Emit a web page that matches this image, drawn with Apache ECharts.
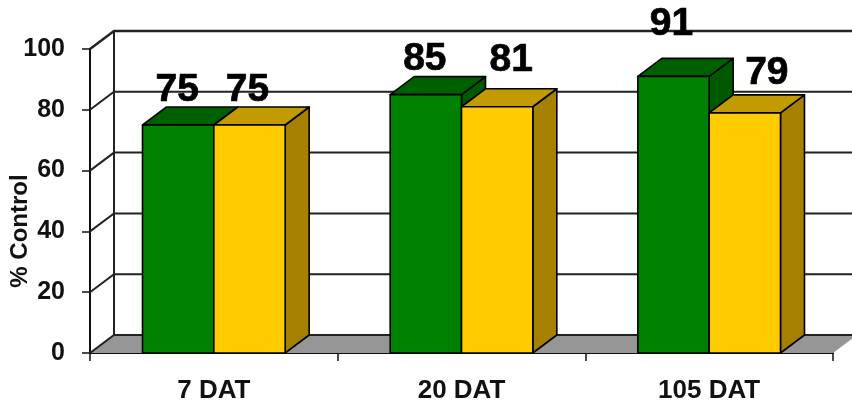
<!DOCTYPE html>
<html><head><meta charset="utf-8">
<style>html,body{margin:0;padding:0;background:#fff}#c{width:852px;height:405px}</style>
<script src="https://cdn.jsdelivr.net/npm/echarts@6/dist/echarts.min.js"></script>
</head><body><div id="c"></div>
<script>
const categories = ['7 DAT', '20 DAT', '105 DAT'];
const greenValues = [75, 85, 91];
const yellowValues = [75, 81, 79];
const yTicks = [0, 20, 40, 60, 80, 100];
const greenLabelNudge = [[-1, -35], [-1, -35], [-2, -52]];
const yellowLabelNudge = [[-2, -35], [14, -47], [22, -40]];

const DX = 24, DY = -18, BAR = 0.288;
const INK = '#000';
const FONT = '"Liberation Sans", Arial, sans-serif';

function poly(pts, fill) {
  return { type: 'polygon', shape: { points: pts },
    style: { fill, stroke: INK, lineWidth: 1.6, lineJoin: 'round' } };
}
function barItem(side, faces, nudges) {
  return function (params, api) {
    const i = api.value(0), v = api.value(1);
    const top = api.coord([i, v]), base = api.coord([i, 0]);
    const w = api.size([1, 0])[0] * BAR;
    const x0 = side < 0 ? top[0] - w : top[0], x1 = x0 + w;
    const yT = top[1], yB = base[1];
    const n = nudges[i];
    return { type: 'group', children: [
      poly([[x1, yB], [x1 + DX, yB + DY], [x1 + DX, yT + DY], [x1, yT]], faces.side),
      poly([[x0, yT], [x0 + DX, yT + DY], [x1 + DX, yT + DY], [x1, yT]], faces.top),
      poly([[x0, yT], [x1, yT], [x1, yB], [x0, yB]], faces.front),
      { type: 'text', z2: 50, style: { x: (x0 + x1) / 2 + n[0], y: yT + n[1], text: String(v),
        fill: '#000', font: 'bold 39px ' + FONT, align: 'center', verticalAlign: 'middle',
        stroke: '#000', lineWidth: 0.7 } }
    ] };
  };
}

const chart = echarts.init(document.getElementById('c'), null, { renderer: 'canvas' });
chart.setOption({
  animation: false,
  backgroundColor: '#fff',
  grid: { left: 90, right: 19, top: 49, bottom: 52, containLabel: false, outerBoundsMode: 'none' },
  xAxis: {
    type: 'category', data: categories,
    axisLine: { lineStyle: { color: '#111', width: 2 } },
    axisTick: { show: true, length: 8, lineStyle: { color: '#111', width: 1.5 } },
    axisLabel: { color: '#111', fontFamily: FONT, fontWeight: 'bold', fontSize: 26, margin: 25 }
  },
  yAxis: {
    type: 'value', min: 0, max: 100, interval: 20,
    name: '% Control', nameLocation: 'middle', nameRotate: 90, nameGap: 58, nameMoveOverlap: false,
    nameTextStyle: { color: '#111', fontFamily: FONT, fontWeight: 'bold', fontSize: 24, padding: [0, 60, 0, 0], lineHeight: 24 },
    axisLine: { show: true, lineStyle: { color: '#111', width: 2 } },
    axisTick: { show: true, length: 8, lineStyle: { color: '#111', width: 1.5 } },
    axisLabel: { color: '#111', fontFamily: FONT, fontWeight: 'bold', fontSize: 25, margin: 25, padding: [6, 0, 0, 0] },
    splitLine: { show: false }
  },
  series: [
    { type: 'custom', z: 1, clip: false, silent: true, data: [[0, 0]], encode: { x: 0, y: 1 },
      renderItem(params, api) {
        const c = params.coordSys, y = c.y + c.height;
        return { type: 'polygon', shape: { points: [[c.x, y], [c.x + DX, y + DY],
          [c.x + c.width + DX, y + DY], [c.x + c.width, y]] },
          style: { fill: '#969696', stroke: null } };
      } },
    { type: 'custom', z: 2, clip: false, silent: true, data: yTicks.map(t => [0, t]), encode: { x: 0, y: 1 },
      renderItem(params, api) {
        const c = params.coordSys, y = api.coord([0, api.value(1)])[1];
        const t = api.value(1);
        const ch = [{ type: 'polyline', shape: { points: [[c.x, y], [c.x + DX, y + DY], [852, y + DY]] },
          style: { fill: null, stroke: '#222', lineWidth: t === 100 ? 2.4 : 2 } }];
        if (t === 100) ch.push({ type: 'line',
          shape: { x1: c.x + DX, y1: y + DY, x2: c.x + DX, y2: c.y + c.height + DY },
          style: { stroke: '#222', lineWidth: 2 } });
        return { type: 'group', children: ch };
      } },
    { type: 'custom', name: 'Green', z: 3, clip: false, encode: { x: 0, y: 1 },
      data: greenValues.map((v, i) => [i, v]),
      renderItem: barItem(-1, { front: '#008000', top: '#006000', side: '#005800' }, greenLabelNudge) },
    { type: 'custom', name: 'Yellow', z: 4, clip: false, encode: { x: 0, y: 1 },
      data: yellowValues.map((v, i) => [i, v]),
      renderItem: barItem(1, { front: '#FFCC00', top: '#C29B00', side: '#A68000' }, yellowLabelNudge) }
  ]
});
</script></body></html>
